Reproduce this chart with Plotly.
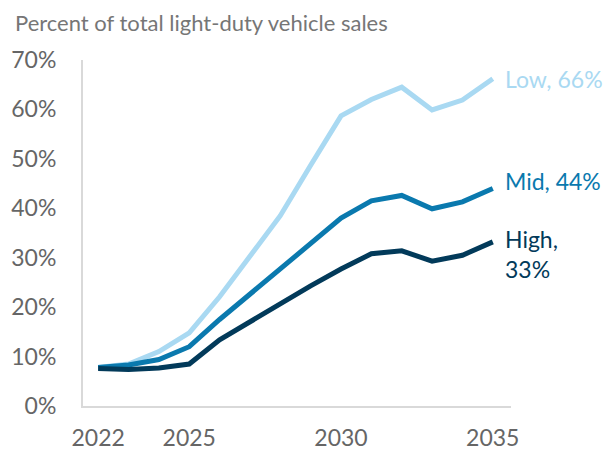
import plotly.graph_objects as go

years = list(range(2022, 2036))
low = [7.8, 8.5, 11.0, 14.8, 22.1, 30.3, 38.5, 48.7, 58.7, 62.0, 64.5, 59.9, 61.9, 66.2]
mid = [7.8, 8.3, 9.4, 12.0, 17.5, 22.7, 27.9, 32.9, 38.0, 41.5, 42.6, 39.9, 41.3, 44.0]
high = [7.6, 7.4, 7.7, 8.5, 13.4, 17.1, 20.8, 24.3, 27.7, 30.8, 31.4, 29.3, 30.5, 33.2]
series_names = ["Low", "Mid", "High"]
labels = ["Low, 66%", "Mid, 44%", "High,<br>33%"]
colors = ["#a9d9f2", "#0a79ae", "#023a5a"]
x_ticks = [2022, 2025, 2030, 2035]
y_ticks = [0, 10, 20, 30, 40, 50, 60, 70]

font = "Lato, Noto Sans, sans-serif"
fig = go.Figure()
for name, vals, col in zip(series_names, [low, mid, high], colors):
    fig.add_trace(go.Scatter(x=years, y=vals, mode="lines", name=name,
                             line=dict(color=col, width=5), showlegend=False))

ann_y = [66.2, 44.0, 33.2]
ann_shift = [0, 8, -12]
for lab, yv, col, ys in zip(labels, ann_y, colors, ann_shift):
    fig.add_annotation(x=2035, y=yv, xref="x", yref="y", text=lab, showarrow=False,
                       xanchor="left", yanchor="middle", xshift=10, yshift=ys, align="left",
                       font=dict(family=font, size=23, color=col))

fig.add_annotation(x=0, y=1, xref="paper", yref="paper", xanchor="left", yanchor="middle",
                   xshift=-70, yshift=38,
                   text="Percent of total light-duty vehicle sales", showarrow=False,
                   font=dict(family=font, size=22, color="#767676"))

fig.update_layout(
    width=605, height=442,
    margin=dict(l=75, r=102, t=52, b=44),
    paper_bgcolor="white", plot_bgcolor="white",
    font=dict(family=font, size=23, color="#666666"),
)
fig.update_xaxes(range=[2021.5, 2035.6], tickvals=x_ticks, ticktext=[str(t) for t in x_ticks],
                 showgrid=False, zeroline=False, showline=True, linecolor="#d9d9d9", linewidth=2,
                 ticks="", ticklabelstandoff=10, automargin=False)
fig.update_yaxes(range=[0, 70], tickvals=y_ticks, ticktext=[f"{t}%" for t in y_ticks],
                 showgrid=False, zeroline=False, showline=True, linecolor="#d9d9d9", linewidth=2,
                 ticks="", ticklabelstandoff=20, automargin=False)
fig.write_html("out.html")
